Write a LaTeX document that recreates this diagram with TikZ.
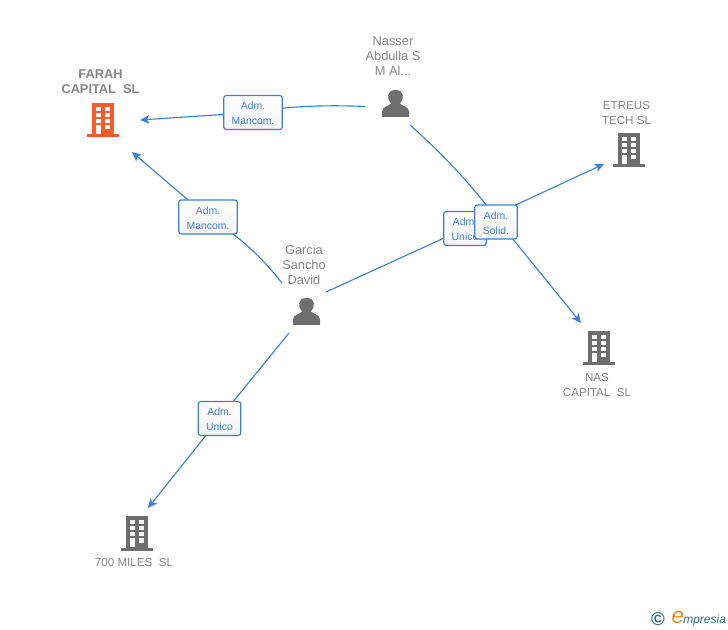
\documentclass[tikz,border=0pt]{standalone}
\usepackage{fontspec}
\setmainfont{Liberation Sans}
\usetikzlibrary{arrows.meta}
\definecolor{linkblue}{HTML}{3B80E0}
\definecolor{labelgrey}{HTML}{858585}
\definecolor{icongrey}{HTML}{6E6E6E}
\definecolor{hotorange}{HTML}{FF5A2B}
\definecolor{logoteal}{HTML}{2F6F86}
\definecolor{logoorange}{HTML}{F08A24}
\tikzset{
  x=0.75pt,y=-0.75pt,
  link/.style={draw=linkblue,line width=0.85pt},
  arrowlink/.style={link,-{Stealth[length=7pt,width=6.5pt,inset=1.8pt]}},
  rolebox/.style={draw=linkblue,line width=0.9pt,rounded corners=2pt,top color=white,bottom color=white!95!black,
    text=linkblue,font=\fontsize{7.8pt}{11.2pt}\selectfont,align=center,inner sep=0pt},
  persontext/.style={text=labelgrey,font=\fontsize{9.6pt}{11.2pt}\selectfont,align=center,inner sep=0pt},
  firmtext/.style={text=labelgrey,font=\fontsize{8.7pt}{11.2pt}\selectfont,align=center,inner sep=0pt},
  iconbox/.style={minimum width=36pt,minimum height=30pt,inner sep=0pt},
  pics/firm/.style={code={
    \fill[#1] (-11,-17) rectangle (11,15.5);
    \fill[#1] (-16,14.5) rectangle (16,17.5);
    \foreach \cy in {-11,-5,1}{
      \fill[white] (-7,\cy-2) rectangle (-2.5,\cy+2);
      \fill[white] (2,\cy-2) rectangle (6.5,\cy+2);
    }
    \fill[white] (-7,5) rectangle (-2.5,14);
    \fill[white] (2,5) rectangle (6.5,9.5);
  }},
  pics/human/.style={code={
    \fill[#1] (-13.5,13.5) -- (-13.5,8) .. controls (-13.5,3) and (-6,2.5) .. (-4.5,0)
      .. controls (-9,-5) and (-9,-13.5) .. (0,-13.5)
      .. controls (9,-13.5) and (9,-5) .. (4.5,0)
      .. controls (6,2.5) and (13.5,3) .. (13.5,8) -- (13.5,13.5) -- cycle;
  }}
}
\begin{document}
\begin{tikzpicture}
\useasboundingbox (0,0) rectangle (728,630);
% icon anchors
\node[iconbox] (farah) at (103,120) {};
\node[iconbox] (etreus) at (629,150) {};
\node[iconbox] (nas) at (599,348) {};
\node[iconbox] (miles) at (137,533) {};
\node[iconbox] (nasser) at (395.5,103.5) {};
\node[iconbox] (garcia) at (306.5,311.5) {};
\pic at (farah) {firm=hotorange};
\pic at (etreus) {firm=icongrey};
\pic at (nas) {firm=icongrey};
\pic at (miles) {firm=icongrey};
\pic at (nasser) {human=icongrey};
\pic at (garcia) {human=icongrey};
% connector ends
\coordinate (nasserW) at (365,106.5);
\coordinate (nasserS) at (410,125);
\coordinate (garciaNW) at (282,283);
\coordinate (garciaE) at (326,292);
\coordinate (garciaSW) at (289,333);
\coordinate (farahE) at (140,120);
\coordinate (farahSE) at (132,152);
\coordinate (etreusW) at (604,164);
\coordinate (nasNW) at (581,323);
\coordinate (milesNE) at (148,508);
% role boxes
\coordinate (b1) at (253,112.5);
\coordinate (b2) at (208,217);
\coordinate (b3) at (219.5,418.5);
\coordinate (b4) at (465,228.5);
\coordinate (b5) at (496,222);
\coordinate (b5a) at (499,222);
% connectors
\draw[arrowlink] (nasserW) .. controls (330,105) and (290,105.5) .. (b1) -- (farahE);
\draw[arrowlink] (garciaNW) .. controls (262,258) and (240,236) .. (b2) -- (farahSE);
\draw[arrowlink] (garciaSW) -- (b3) -- (milesNE);
\draw[arrowlink] (garciaE) -- (b4) -- (etreusW);
\draw[arrowlink] (nasserS) .. controls (447,158) and (476,190) .. (b5a) -- (nasNW);
% boxes
\node[rolebox,minimum width=44pt,minimum height=25.5pt] (r1) at (b1) {\rule{0pt}{6.9pt}Adm.\\Mancom.};
\node[rolebox,minimum width=44pt,minimum height=25.5pt] (r2) at (b2) {\rule{0pt}{6.9pt}Adm.\\Mancom.};
\node[rolebox,minimum width=32pt,minimum height=25.5pt] (r3) at (b3) {\rule{0pt}{6.9pt}Adm.\\Unico};
\node[rolebox,minimum width=32pt,minimum height=25.5pt] (r4) at (b4) {\rule{0pt}{6.9pt}Adm.\\Unico};
\node[rolebox,minimum width=32pt,minimum height=25.5pt] (r5) at (b5) {\rule{0pt}{6.9pt}Adm.\\Solid.};
% labels
\node[firmtext,font=\fontsize{9.6pt}{11.2pt}\selectfont] (tfarah) at (100.5,81.7) {\textbf{FARAH}\\\textbf{CAPITAL\ \ SL}};
\node[firmtext] (tetreus) at (626.5,113.3) {ETREUS\\TECH SL};
\node[firmtext] (tnas) at (597,385.2) {NAS\\CAPITAL\ \ SL};
\node[firmtext] (tmiles) at (134,562.7) {700 MILES\ \ SL};
\node[persontext] (tnasser) at (393,56.5) {Nasser\\Abdulla S\\M Al...};
\node[persontext] (tgarcia) at (304,264.5) {Garcia\\Sancho\\David};
% logo
\node[text=logoteal,inner sep=0pt,font=\fontsize{14pt}{14pt}\selectfont\bfseries] (copy) at (658,619) {©};
\node[text=logoorange,inner sep=0pt,font=\fontsize{17pt}{17pt}\selectfont\itshape] (loge) at (678,617.5) {e};
\node[text=logoteal,inner sep=0pt,anchor=base west,font=\fontsize{9pt}{10pt}\selectfont\itshape] (logt) at (683,623) {mpresia};
\end{tikzpicture}
\end{document}
